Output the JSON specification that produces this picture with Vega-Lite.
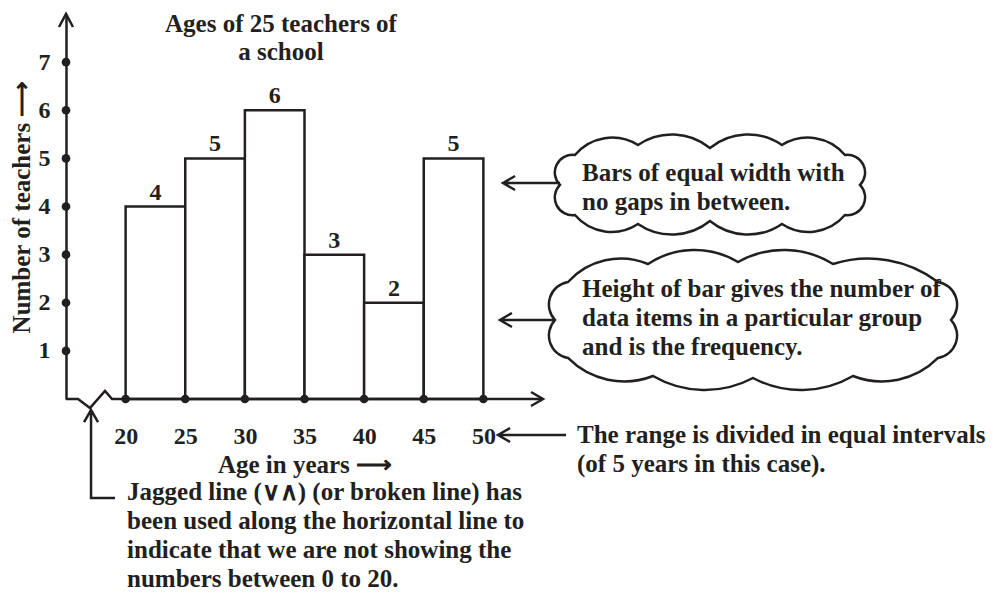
{
  "$schema": "https://vega.github.io/schema/vega-lite/v6.json",
  "width": 477,
  "height": 385,
  "autosize": {"type": "none"},
  "padding": {"left": 66, "top": 14, "right": 451, "bottom": 198},
  "background": "white",
  "config": {"view": {"stroke": null}},
  "datasets": {
    "hist": [
      {"start": 20, "end": 25, "mid": 22.5, "teachers": 4},
      {"start": 25, "end": 30, "mid": 27.5, "teachers": 5},
      {"start": 30, "end": 35, "mid": 32.5, "teachers": 6},
      {"start": 35, "end": 40, "mid": 37.5, "teachers": 3},
      {"start": 40, "end": 45, "mid": 42.5, "teachers": 2},
      {"start": 45, "end": 50, "mid": 47.5, "teachers": 5}
    ],
    "xticks": [{"age": 20}, {"age": 25}, {"age": 30}, {"age": 35}, {"age": 40}, {"age": 45}, {"age": 50}],
    "yticks": [{"n": 1}, {"n": 2}, {"n": 3}, {"n": 4}, {"n": 5}, {"n": 6}, {"n": 7}],
    "axisline": [
      {"x": 15, "y": 0},
      {"x": 16.01, "y": 0},
      {"x": 17.01, "y": -0.187},
      {"x": 18.27, "y": 0.166},
      {"x": 18.86, "y": 0},
      {"x": 55, "y": 0}
    ]
  },
  "layer": [
    {
      "data": {"name": "hist"},
      "mark": {"type": "rect", "fill": "white", "stroke": "#231f20", "strokeWidth": 2.5},
      "encoding": {
        "x": {
          "field": "start", "type": "quantitative",
          "scale": {"domain": [15, 55], "nice": false, "zero": false},
          "axis": {
            "values": [20, 25, 30, 35, 40, 45, 50], "format": "d",
            "domain": false, "ticks": false, "grid": false,
            "labelPadding": 25, "labelFont": "Liberation Serif", "labelFontWeight": "bold",
            "labelFontSize": 24, "labelColor": "#231f20", "labelFlush": false, "labelOverlap": false,
            "title": "Age in years ⟶", "titleFont": "Liberation Serif", "titleFontWeight": "bold",
            "titleFontSize": 25, "titleColor": "#231f20", "titlePadding": 4
          }
        },
        "x2": {"field": "end"},
        "y": {
          "field": "teachers", "type": "quantitative",
          "scale": {"domain": [0, 8], "nice": false, "zero": false},
          "axis": {
            "values": [1, 2, 3, 4, 5, 6, 7], "format": "d",
            "domain": true, "domainColor": "#231f20", "domainWidth": 2.5,
            "ticks": false, "grid": false,
            "labelPadding": 16, "labelFont": "Liberation Serif", "labelFontWeight": "bold",
            "labelFontSize": 24, "labelColor": "#231f20", "labelOverlap": false,
            "title": "Number of teachers ⟶", "titleFont": "Liberation Serif", "titleFontWeight": "bold",
            "titleFontSize": 25, "titleColor": "#231f20", "titlePadding": 4
          }
        },
        "y2": {"datum": 0}
      }
    },
    {
      "data": {"name": "hist"},
      "mark": {"type": "text", "font": "Liberation Serif", "fontWeight": "bold", "fontSize": 24, "color": "#231f20", "baseline": "alphabetic", "align": "center", "dy": -7},
      "encoding": {
        "x": {"field": "mid", "type": "quantitative", "scale": {"domain": [15, 55], "nice": false, "zero": false}},
        "y": {"field": "teachers", "type": "quantitative", "scale": {"domain": [0, 8], "nice": false, "zero": false}},
        "text": {"field": "teachers", "type": "quantitative"}
      }
    },
    {
      "data": {"name": "axisline"},
      "mark": {"type": "line", "color": "#231f20", "strokeWidth": 2.5, "strokeJoin": "miter"},
      "encoding": {
        "x": {"field": "x", "type": "quantitative", "scale": {"domain": [15, 55], "nice": false, "zero": false}},
        "y": {"field": "y", "type": "quantitative", "scale": {"domain": [0, 8], "nice": false, "zero": false}}
      }
    },
    {
      "data": {"name": "xticks"},
      "mark": {"type": "point", "filled": true, "size": 75, "color": "#231f20", "opacity": 1},
      "encoding": {
        "x": {"field": "age", "type": "quantitative", "scale": {"domain": [15, 55], "nice": false, "zero": false}},
        "y": {"datum": 0, "type": "quantitative", "scale": {"domain": [0, 8], "nice": false, "zero": false}}
      }
    },
    {
      "data": {"name": "yticks"},
      "mark": {"type": "point", "filled": true, "size": 75, "color": "#231f20", "opacity": 1},
      "encoding": {
        "x": {"datum": 15, "type": "quantitative", "scale": {"domain": [15, 55], "nice": false, "zero": false}},
        "y": {"field": "n", "type": "quantitative", "scale": {"domain": [0, 8], "nice": false, "zero": false}}
      }
    },
    {
      "data": {"values": [{}]},
      "mark": {"type": "point", "shape": "M-150,0 A17.7,17.7 0 0 1 -135,-30 A48.4,48.4 0 0 1 -72,-40 A60.2,60.2 0 0 1 0,-37 A60.2,60.2 0 0 1 72,-40 A48.4,48.4 0 0 1 135,-30 A17.7,17.7 0 0 1 150,0 A17.7,17.7 0 0 1 135,30 A48.1,48.1 0 0 1 72,39 A60.2,60.2 0 0 1 0,36 A60.2,60.2 0 0 1 -72,39 A48.1,48.1 0 0 1 -135,30 A17.7,17.7 0 0 1 -150,0 Z", "size": 4, "filled": true, "fill": "white", "stroke": "#231f20", "strokeWidth": 2.5, "opacity": 1},
      "encoding": {
        "x": {"datum": 69.0, "type": "quantitative", "scale": {"domain": [15, 55], "nice": false, "zero": false}},
        "y": {"datum": 4.447, "type": "quantitative", "scale": {"domain": [0, 8], "nice": false, "zero": false}}
      }
    },
    {
      "data": {"values": [{}]},
      "mark": {"type": "point", "shape": "M-198,0 A22.8,22.8 0 0 1 -185,-38 A71.2,71.2 0 0 1 -105,-56 A84.4,84.4 0 0 1 -15,-58 A93.3,93.3 0 0 1 80,-56 A115.6,115.6 0 0 1 185,-38 A22.8,22.8 0 0 1 198,0 A22.8,22.8 0 0 1 185,38 A79.1,79.1 0 0 1 100,56 A102.7,102.7 0 0 1 0,58 A102.7,102.7 0 0 1 -100,56 A79.1,79.1 0 0 1 -185,38 A22.8,22.8 0 0 1 -198,0 Z", "size": 4, "filled": true, "fill": "white", "stroke": "#231f20", "strokeWidth": 2.5, "opacity": 1},
      "encoding": {
        "x": {"datum": 72.61, "type": "quantitative", "scale": {"domain": [15, 55], "nice": false, "zero": false}},
        "y": {"datum": 1.642, "type": "quantitative", "scale": {"domain": [0, 8], "nice": false, "zero": false}}
      }
    },
    {
      "data": {"values": [{}]},
      "mark": {"type": "point", "shape": "M-7,13 L0,0 L7,13", "size": 4, "filled": false, "stroke": "#231f20", "strokeWidth": 2.5, "opacity": 1},
      "encoding": {
        "x": {"datum": 15, "type": "quantitative", "scale": {"domain": [15, 55], "nice": false, "zero": false}},
        "y": {"datum": 8, "type": "quantitative", "scale": {"domain": [0, 8], "nice": false, "zero": false}}
      }
    },
    {
      "data": {"values": [{}]},
      "mark": {"type": "point", "shape": "M-12,-7 L0,0 L-12,7", "size": 4, "filled": false, "stroke": "#231f20", "strokeWidth": 2.5, "opacity": 1},
      "encoding": {
        "x": {"datum": 55, "type": "quantitative", "scale": {"domain": [15, 55], "nice": false, "zero": false}},
        "y": {"datum": 0, "type": "quantitative", "scale": {"domain": [0, 8], "nice": false, "zero": false}}
      }
    },
    {
      "data": {"values": [{}]},
      "mark": {"type": "point", "shape": "M0,0 L57,0 M12,-7 L0,0 L12,7", "size": 4, "filled": false, "stroke": "#231f20", "strokeWidth": 2.5, "opacity": 1},
      "encoding": {
        "x": {"datum": 51.65, "type": "quantitative", "scale": {"domain": [15, 55], "nice": false, "zero": false}},
        "y": {"datum": 4.488, "type": "quantitative", "scale": {"domain": [0, 8], "nice": false, "zero": false}}
      }
    },
    {
      "data": {"values": [{}]},
      "mark": {"type": "point", "shape": "M0,0 L55,0 M12,-7 L0,0 L12,7", "size": 4, "filled": false, "stroke": "#231f20", "strokeWidth": 2.5, "opacity": 1},
      "encoding": {
        "x": {"datum": 51.39, "type": "quantitative", "scale": {"domain": [15, 55], "nice": false, "zero": false}},
        "y": {"datum": 1.642, "type": "quantitative", "scale": {"domain": [0, 8], "nice": false, "zero": false}}
      }
    },
    {
      "data": {"values": [{}]},
      "mark": {"type": "point", "shape": "M0,0 L68,0 M12,-7 L0,0 L12,7", "size": 4, "filled": false, "stroke": "#231f20", "strokeWidth": 2.5, "opacity": 1},
      "encoding": {
        "x": {"datum": 51.23, "type": "quantitative", "scale": {"domain": [15, 55], "nice": false, "zero": false}},
        "y": {"datum": -0.748, "type": "quantitative", "scale": {"domain": [0, 8], "nice": false, "zero": false}}
      }
    },
    {
      "data": {"values": [{}]},
      "mark": {"type": "point", "shape": "M0,0 L0,88 L24,88 M-7,12 L0,0 L7,12", "size": 4, "filled": false, "stroke": "#231f20", "strokeWidth": 2.5, "opacity": 1},
      "encoding": {
        "x": {"datum": 17.10, "type": "quantitative", "scale": {"domain": [15, 55], "nice": false, "zero": false}},
        "y": {"datum": -0.229, "type": "quantitative", "scale": {"domain": [0, 8], "nice": false, "zero": false}}
      }
    },
    {
      "data": {"values": [{}]},
      "mark": {"type": "text", "text": ["Ages of 25 teachers of", "a school"], "font": "Liberation Serif", "fontWeight": "bold", "fontSize": 25, "color": "#231f20", "align": "center", "baseline": "top", "lineHeight": 28},
      "encoding": {
        "x": {"datum": 33.03, "type": "quantitative", "scale": {"domain": [15, 55], "nice": false, "zero": false}},
        "y": {"datum": 8.042, "type": "quantitative", "scale": {"domain": [0, 8], "nice": false, "zero": false}}
      }
    },
    {
      "data": {"values": [{}]},
      "mark": {"type": "text", "text": ["Bars of equal width with", "no gaps in between."], "font": "Liberation Serif", "fontWeight": "bold", "fontSize": 25, "color": "#231f20", "align": "left", "baseline": "top", "lineHeight": 29},
      "encoding": {
        "x": {"datum": 58.27, "type": "quantitative", "scale": {"domain": [15, 55], "nice": false, "zero": false}},
        "y": {"datum": 4.945, "type": "quantitative", "scale": {"domain": [0, 8], "nice": false, "zero": false}}
      }
    },
    {
      "data": {"values": [{}]},
      "mark": {"type": "text", "text": ["Height of bar gives the number of", "data items in a particular group", "and is the frequency."], "font": "Liberation Serif", "fontWeight": "bold", "fontSize": 25, "color": "#231f20", "align": "left", "baseline": "top", "lineHeight": 29},
      "encoding": {
        "x": {"datum": 58.27, "type": "quantitative", "scale": {"domain": [15, 55], "nice": false, "zero": false}},
        "y": {"datum": 2.535, "type": "quantitative", "scale": {"domain": [0, 8], "nice": false, "zero": false}}
      }
    },
    {
      "data": {"values": [{}]},
      "mark": {"type": "text", "text": ["The range is divided in equal intervals", "(of 5 years in this case)."], "font": "Liberation Serif", "fontWeight": "bold", "fontSize": 25, "color": "#231f20", "align": "left", "baseline": "top", "lineHeight": 29},
      "encoding": {
        "x": {"datum": 57.85, "type": "quantitative", "scale": {"domain": [15, 55], "nice": false, "zero": false}},
        "y": {"datum": -0.499, "type": "quantitative", "scale": {"domain": [0, 8], "nice": false, "zero": false}}
      }
    },
    {
      "data": {"values": [{}]},
      "mark": {"type": "text", "text": ["Jagged line (∨∧) (or broken line) has", "been used along the horizontal line to", "indicate that we are not showing the", "numbers between 0 to 20."], "font": "Liberation Serif", "fontWeight": "bold", "fontSize": 25, "color": "#231f20", "align": "left", "baseline": "top", "lineHeight": 29},
      "encoding": {
        "x": {"datum": 20.12, "type": "quantitative", "scale": {"domain": [15, 55], "nice": false, "zero": false}},
        "y": {"datum": -1.683, "type": "quantitative", "scale": {"domain": [0, 8], "nice": false, "zero": false}}
      }
    }
  ]
}
